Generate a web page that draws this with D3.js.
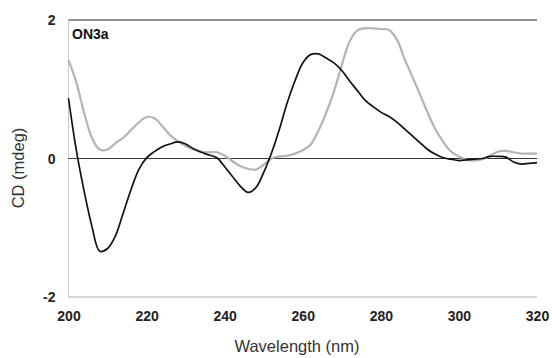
<!DOCTYPE html>
<html>
<head>
<meta charset="utf-8">
<script src="https://cdn.jsdelivr.net/npm/d3@7"></script>
<style>
  html, body { margin: 0; padding: 0; background: #fff; }
  svg { display: block; font-family: "Liberation Sans", Arial, Helvetica, sans-serif; }
</style>
</head>
<body>
<svg id="chart" width="552" height="358"></svg>
<script>
// CD spectra of ON3a, sampled every 2 nm
const wavelength = d3.range(200, 321, 2);
const cdGray = [
  1.42, 1.10, 0.66, 0.30, 0.13, 0.13, 0.22, 0.30, 0.41, 0.52,
  0.60, 0.58, 0.47, 0.34, 0.25, 0.18, 0.13, 0.10, 0.09, 0.09,
  0.04, -0.04, -0.11, -0.15, -0.16, -0.09, 0.00, 0.03, 0.04, 0.07,
  0.12, 0.20, 0.40, 0.66, 0.97, 1.35, 1.69, 1.85, 1.88, 1.88,
  1.87, 1.86, 1.73, 1.45, 1.19, 0.93, 0.66, 0.42, 0.24, 0.10,
  0.03, -0.02, -0.03, -0.01, 0.04, 0.10, 0.11, 0.09, 0.07, 0.07,
  0.07
];
const cdBlack = [
  0.87, 0.12, -0.47, -0.98, -1.34, -1.30, -1.12, -0.79, -0.45, -0.16,
  0.01, 0.10, 0.17, 0.21, 0.24, 0.21, 0.14, 0.09, 0.05, 0.01,
  -0.12, -0.26, -0.40, -0.49, -0.42, -0.20, 0.08, 0.42, 0.80, 1.12,
  1.38, 1.50, 1.51, 1.45, 1.38, 1.27, 1.12, 0.98, 0.84, 0.75,
  0.67, 0.61, 0.53, 0.43, 0.33, 0.23, 0.13, 0.06, 0.01, -0.01,
  -0.03, -0.02, -0.01, 0.00, 0.03, 0.03, 0.02, -0.05, -0.08, -0.07,
  -0.06
];
const xTicks = [200, 220, 240, 260, 280, 300, 320];
const yTicks = [-2, 0, 2];
const panelLabel = "ON3a";
const xTitle = "Wavelength (nm)";
const yTitle = "CD (mdeg)";

const svg = d3.select("#chart");
const plotLeft = 68.5, plotRight = 537, plotTop = 20, plotBottom = 297;

const x = d3.scaleLinear().domain([200, 320]).range([plotLeft, plotRight]);
const y = d3.scaleLinear().domain([-2, 2]).range([plotBottom, plotTop]);

// frame: light left and bottom axes, darker top rule
svg.append("line")
  .attr("x1", plotLeft).attr("x2", plotLeft).attr("y1", plotTop).attr("y2", plotBottom)
  .attr("stroke", "#c8c8c8").attr("stroke-width", 1);
svg.append("line")
  .attr("x1", plotLeft).attr("x2", plotRight).attr("y1", plotBottom).attr("y2", plotBottom)
  .attr("stroke", "#c8c8c8").attr("stroke-width", 1.5);
svg.append("line")
  .attr("x1", plotLeft).attr("x2", plotRight).attr("y1", y(2)).attr("y2", y(2))
  .attr("stroke", "#6e6e6e").attr("stroke-width", 1.5);
svg.append("line")
  .attr("x1", plotLeft).attr("x2", plotRight).attr("y1", y(0)).attr("y2", y(0))
  .attr("stroke", "#333").attr("stroke-width", 1);

// axes, labels only
const xAxis = d3.axisBottom(x).tickValues(xTicks).tickSize(0).tickPadding(0);
const gx = svg.append("g").attr("transform", `translate(0,${plotBottom})`).call(xAxis);
gx.select(".domain").remove();
gx.selectAll("text")
  .attr("dy", null).attr("y", 24)
  .attr("font-size", 14).attr("font-weight", "bold").attr("fill", "#222")
  .attr("font-family", "Liberation Sans, Arial, sans-serif");

const yAxis = d3.axisLeft(y).tickValues(yTicks).tickSize(0).tickPadding(0)
  .tickFormat(d => d === 0 ? "0" : (d < 0 ? "-" + Math.abs(d) : String(d)));
const gy = svg.append("g").attr("transform", `translate(${plotLeft - 13},0)`).call(yAxis);
gy.select(".domain").remove();
gy.selectAll("text")
  .attr("dy", "0.35em").attr("x", 0)
  .attr("font-size", 14).attr("font-weight", "bold").attr("fill", "#222")
  .attr("font-family", "Liberation Sans, Arial, sans-serif");

// spectra
const line = d3.line()
  .x(d => x(d[0]))
  .y(d => y(d[1]))
  .curve(d3.curveCatmullRom.alpha(0.5));

svg.append("path")
  .datum(wavelength.map((w, i) => [w, cdGray[i]]))
  .attr("d", line)
  .attr("fill", "none").attr("stroke", "#b4b4b4").attr("stroke-width", 2.2)
  .attr("stroke-linejoin", "round");

svg.append("path")
  .datum(wavelength.map((w, i) => [w, cdBlack[i]]))
  .attr("d", line)
  .attr("fill", "none").attr("stroke", "#111").attr("stroke-width", 1.7)
  .attr("stroke-linejoin", "round");

// titles
svg.append("text")
  .attr("x", 72).attr("y", 38.5)
  .attr("font-size", 14).attr("font-weight", "bold").attr("fill", "#111")
  .text(panelLabel);

svg.append("text")
  .attr("x", 297).attr("y", 352)
  .attr("text-anchor", "middle")
  .attr("font-size", 16.5).attr("fill", "#333")
  .text(xTitle);

svg.append("text")
  .attr("transform", "translate(24,168) rotate(-90)")
  .attr("text-anchor", "middle")
  .attr("font-size", 16.5).attr("fill", "#333")
  .text(yTitle);
</script>
</body>
</html>
